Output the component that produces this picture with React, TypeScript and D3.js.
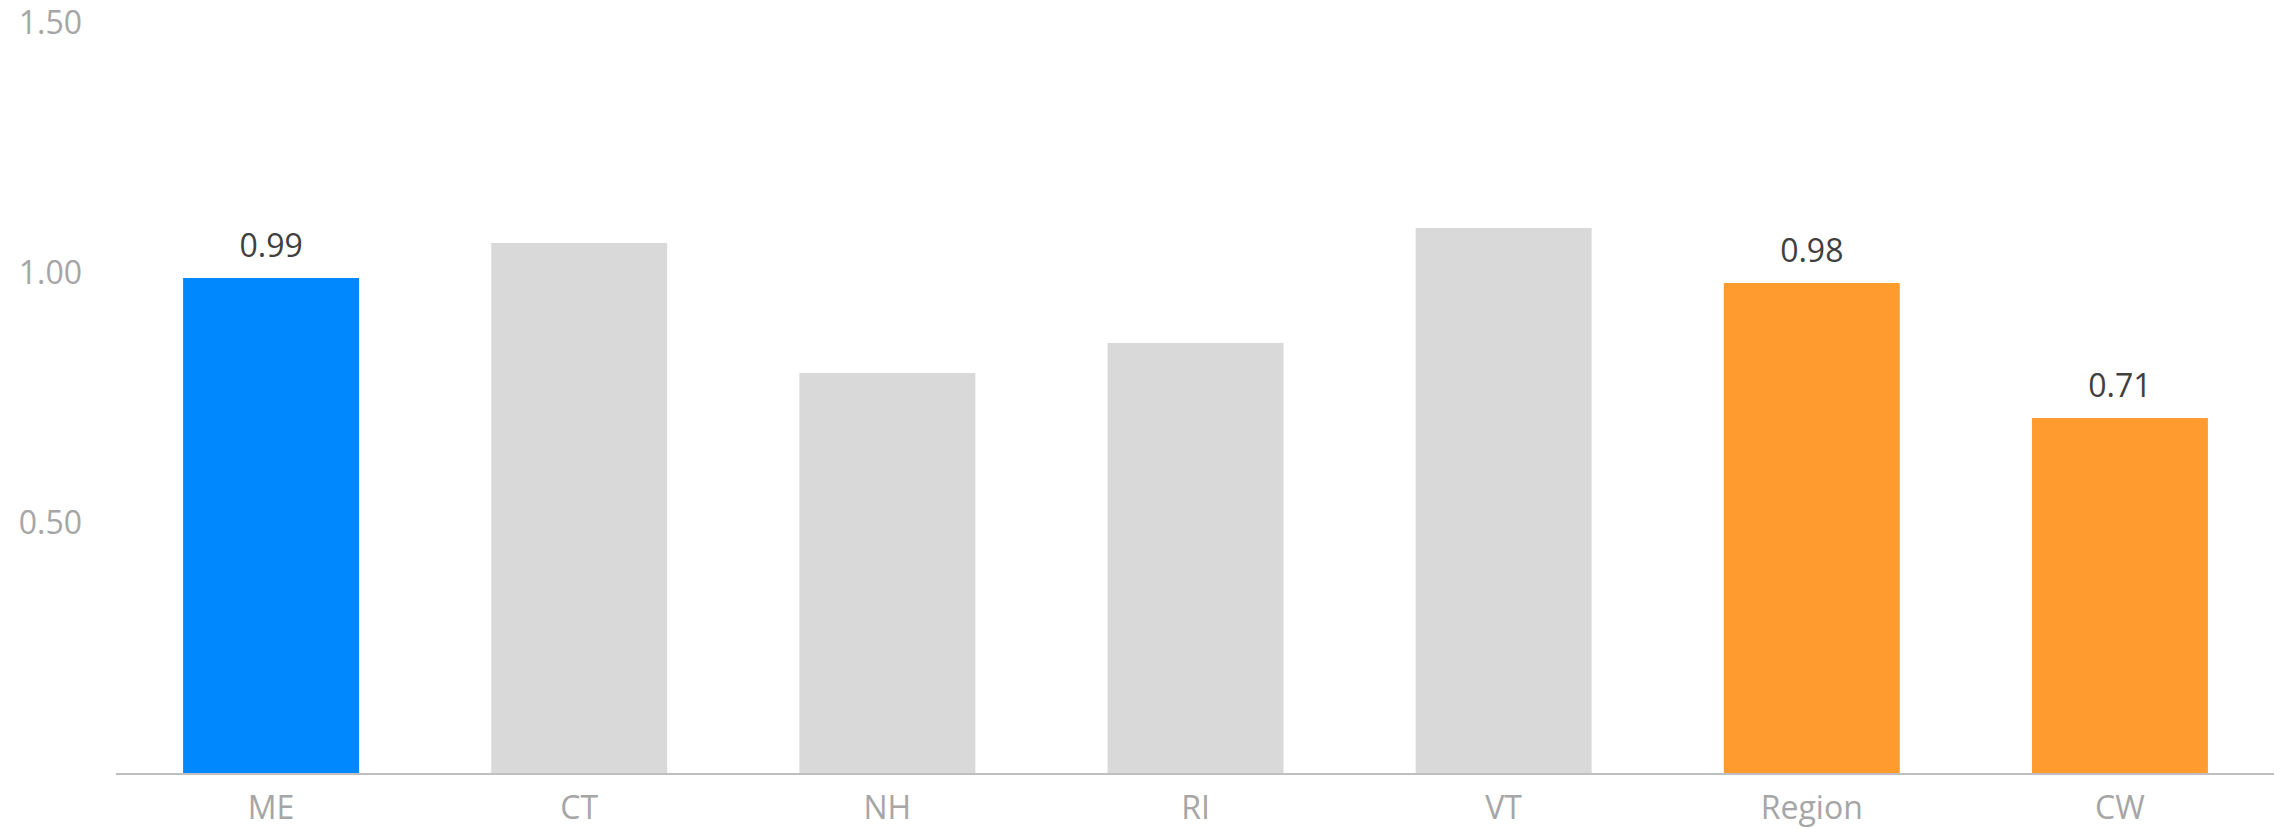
import React from "react";
import * as d3 from "d3";

const categories = ["ME", "CT", "NH", "RI", "VT", "Region", "CW"];
const values = [0.99, 1.06, 0.8, 0.86, 1.09, 0.98, 0.71];
const barColors = ["#0088FF", "#D9D9D9", "#D9D9D9", "#D9D9D9", "#D9D9D9", "#FF9B2F", "#FF9B2F"];
const showValue = [true, false, false, false, false, true, true];
const yTicks = [0.5, 1.0, 1.5];

const W = 2280;
const H = 829;
const FONT = "'Open Sans', Lato, sans-serif";

export default function App() {
  const x = d3
    .scaleBand<string>()
    .domain(categories)
    .range([117, 2274])
    .paddingInner(0.429)
    .paddingOuter(0.2145);
  const y = d3.scaleLinear().domain([0, 1.5]).range([773, 23]);

  return (
    <svg
      width={W}
      height={H}
      style={{ position: "absolute", left: 0, top: 0, background: "#fff" }}
    >
      {yTicks.map((t) => (
        <text
          key={t}
          x={82}
          y={y(t) + 11}
          textAnchor="end"
          fontFamily={FONT}
          fontSize={32}
          fill="#A6A6A6"
        >
          {d3.format(".2f")(t)}
        </text>
      ))}
      {categories.map((c, i) => (
        <g key={c}>
          <rect
            x={x(c)}
            y={y(values[i])}
            width={x.bandwidth()}
            height={y(0) - y(values[i])}
            fill={barColors[i]}
          />
          {showValue[i] && (
            <text
              x={(x(c) as number) + x.bandwidth() / 2}
              y={y(values[i]) - 21}
              textAnchor="middle"
              fontFamily={FONT}
              fontSize={32}
              fill="#404040"
            >
              {d3.format(".2f")(values[i])}
            </text>
          )}
          <text
            x={(x(c) as number) + x.bandwidth() / 2}
            y={819}
            textAnchor="middle"
            fontFamily={FONT}
            fontSize={32}
            fill="#A6A6A6"
          >
            {c}
          </text>
        </g>
      ))}
      <line x1={116} x2={2274} y1={774} y2={774} stroke="#BFBFBF" strokeWidth={2} />
    </svg>
  );
}
